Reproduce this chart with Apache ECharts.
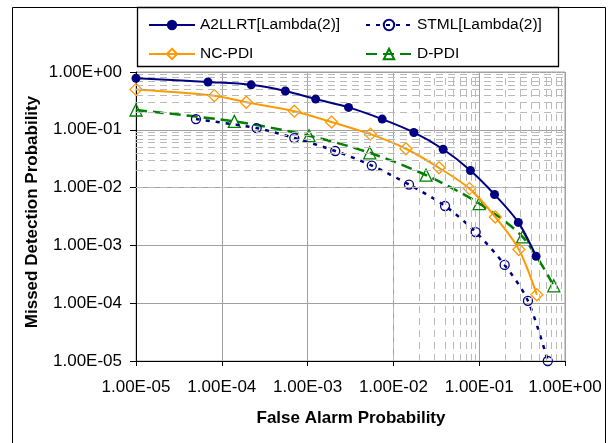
<!DOCTYPE html>
<html>
<head>
<meta charset="utf-8">
<script src="https://cdn.jsdelivr.net/npm/echarts@6/dist/echarts.min.js"></script>
<style>
html,body{margin:0;padding:0;background:#fff;}
#chart{width:615px;height:443px;}
</style>
</head>
<body>
<div id="chart"></div>
<script>
// ---- data ----
const a2llrtX = [1e-5, 6.9e-5, 2.2e-4, 5.5e-4, 1.24e-3, 3.0e-3, 7.4e-3, 1.73e-2, 3.8e-2, 7.9e-2, 0.151, 0.286, 0.46];
const a2llrtY = [0.78, 0.67, 0.60, 0.47, 0.34, 0.244, 0.153, 0.09, 0.046, 0.0198, 0.0076, 0.0025, 6.5e-4];

const stmlX = [5e-5, 2.55e-4, 7e-4, 2.1e-3, 5.6e-3, 1.52e-2, 4e-2, 9.1e-2, 0.198, 0.37, 0.63];
const stmlY = [0.153, 0.107, 0.072, 0.043, 0.024, 0.0113, 0.0048, 0.0017, 4.6e-4, 1.1e-4, 1e-5];

const ncpdiX = [1e-5, 8.2e-5, 1.93e-4, 7e-4, 1.9e-3, 5.4e-3, 1.4e-2, 3.4e-2, 7.7e-2, 0.154, 0.29, 0.47];
const ncpdiY = [0.5, 0.39, 0.30, 0.21, 0.136, 0.084, 0.047, 0.022, 0.0096, 0.0031, 8.5e-4, 1.4e-4];

const dpdiX = [1e-5, 1.4e-4, 1.04e-3, 5.3e-3, 2.4e-2, 0.1, 0.32, 0.74];
const dpdiY = [0.22, 0.14, 0.079, 0.04, 0.0164, 0.0053, 0.0014, 2.0e-4];

const seriesNames = ['A2LLRT[Lambda(2)]', 'STML[Lambda(2)]', 'NC-PDI', 'D-PDI'];

const xTickLabels = ['1.00E-05', '1.00E-04', '1.00E-03', '1.00E-02', '1.00E-01', '1.00E+00'];
const yTickLabels = ['1.00E-05', '1.00E-04', '1.00E-03', '1.00E-02', '1.00E-01', '1.00E+00'];

const decadeStarts = [1e-5, 1e-4, 1e-3, 1e-2, 1e-1];
const minorMultipliers = [2, 3, 4, 5, 6, 7, 8, 9];

// ---- helpers ----
function pairs(xs, ys) { return xs.map((x, i) => [x, ys[i]]); }
function labelFor(labels) {
  return function (v) {
    const e = Math.round(Math.log10(v));
    return labels[e + 5] !== undefined ? labels[e + 5] : '';
  };
}
const minorLines = [];
decadeStarts.forEach(d => minorMultipliers.forEach(m => {
  minorLines.push({ xAxis: d * m });
  minorLines.push({ yAxis: d * m });
}));

const FONT = "'Liberation Sans', Arial, sans-serif";
const NAVY = '#000080', ORANGE = '#FF9900', GREEN = '#008000';

const chart = echarts.init(document.getElementById('chart'), null, { renderer: 'canvas' });

function legendAt(name, left, top) {
  return {
    data: [name], left: left, top: top, padding: 0,
    itemWidth: 46, itemHeight: 13, selectedMode: false,
    textStyle: { fontFamily: FONT, fontSize: 15.5, color: '#000' }
  };
}

chart.setOption({
  animation: false,
  backgroundColor: '#fff',
  textStyle: { fontFamily: FONT },
  grid: { left: 136, right: 50, top: 72, bottom: 82, show: true, borderColor: '#a0a0a0', borderWidth: 1, backgroundColor: 'transparent' },
  legend: [
    legendAt(seriesNames[0], 148, 17),
    legendAt(seriesNames[1], 365, 17),
    legendAt(seriesNames[2], 148, 46),
    legendAt(seriesNames[3], 365, 46)
  ],
  xAxis: {
    type: 'log', logBase: 10, min: 1e-5, max: 1, interval: 1,
    axisLine: { show: true, lineStyle: { color: '#000', width: 1 } },
    axisTick: { show: true, inside: false, length: 5, lineStyle: { color: '#000' } },
    axisLabel: { formatter: labelFor(xTickLabels), fontFamily: FONT, fontSize: 17, color: '#000', margin: 18, showMinLabel: true, showMaxLabel: true },
    splitLine: { show: true, lineStyle: { color: '#a0a0a0', width: 1 } }
  },
  yAxis: {
    type: 'log', logBase: 10, min: 1e-5, max: 1, interval: 1,
    axisLine: { show: true, lineStyle: { color: '#000', width: 1 } },
    axisTick: { show: true, inside: false, length: 6, lineStyle: { color: '#000' } },
    axisLabel: { formatter: labelFor(yTickLabels), fontFamily: FONT, fontSize: 17, color: '#000', margin: 14 },
    splitLine: { show: true, lineStyle: { color: '#a0a0a0', width: 1 } }
  },
  graphic: [
    { type: 'rect', silent: true, z: 100, shape: { x: 12.5, y: 7.5, width: 593, height: 445 }, style: { fill: 'none', stroke: '#000', lineWidth: 1 } },
    { type: 'rect', silent: true, z: 100, shape: { x: 137.5, y: 7.5, width: 421, height: 59 }, style: { fill: 'none', stroke: '#000', lineWidth: 1.3 } },
    { type: 'text', silent: true, x: 351, y: 418, style: { text: 'False Alarm Probability', font: "bold 17px 'Liberation Sans', Arial, sans-serif", fill: '#000', align: 'center', verticalAlign: 'middle' } },
    { type: 'text', silent: true, x: 32, y: 212, rotation: Math.PI / 2, style: { text: 'Missed Detection Probability', font: "bold 17px 'Liberation Sans', Arial, sans-serif", fill: '#000', align: 'center', verticalAlign: 'middle' } }
  ],
  series: [
    {
      name: '__minorgrid', type: 'line', data: [], z: 1, silent: true,
      markLine: {
        silent: true, symbol: 'none', animation: false,
        label: { show: false },
        lineStyle: { color: '#bababa', width: 1, type: [7, 5] },
        emphasis: { disabled: true },
        data: minorLines
      }
    },
    {
      name: seriesNames[0], type: 'line', data: pairs(a2llrtX, a2llrtY), smooth: 0.3, clip: false, z: 5,
      symbol: 'circle', symbolSize: 9,
      lineStyle: { color: NAVY, width: 2 },
      itemStyle: { color: NAVY }
    },
    {
      name: seriesNames[1], type: 'line', data: pairs(stmlX, stmlY), smooth: 0.3, clip: false, z: 4,
      symbol: 'circle', symbolSize: 9,
      lineStyle: { color: NAVY, width: 2.5, type: [4, 6] },
      itemStyle: { color: 'rgba(255,255,255,0)', borderColor: NAVY, borderWidth: 1.3 }
    },
    {
      name: seriesNames[2], type: 'line', data: pairs(ncpdiX, ncpdiY), smooth: 0.3, clip: false, z: 4,
      symbol: 'diamond', symbolSize: 12,
      lineStyle: { color: ORANGE, width: 2 },
      itemStyle: { color: 'rgba(255,255,255,0)', borderColor: ORANGE, borderWidth: 1.3 }
    },
    {
      name: seriesNames[3], type: 'line', data: pairs(dpdiX, dpdiY), smooth: 0.3, clip: false, z: 3,
      symbol: 'triangle', symbolSize: 12,
      lineStyle: { color: GREEN, width: 2.5, type: [11, 6] },
      itemStyle: { color: 'rgba(255,255,255,0)', borderColor: GREEN, borderWidth: 1.3 }
    }
  ]
});
</script>
</body>
</html>
